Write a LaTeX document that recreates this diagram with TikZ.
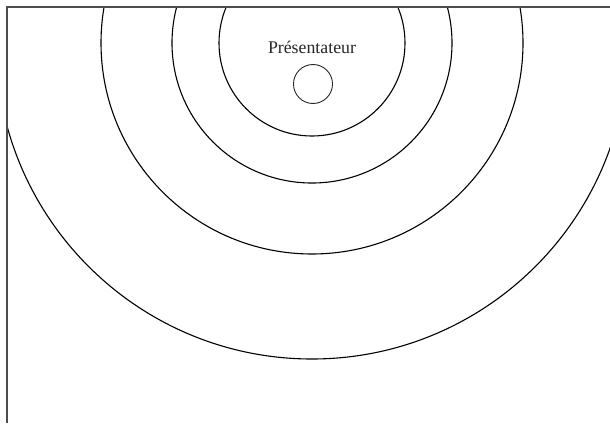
\documentclass[tikz,border=0pt]{standalone}
\usepackage{fontspec}
\setmainfont{Liberation Serif}
\begin{document}
\begin{tikzpicture}[x=1pt,y=-1pt,
  frame/.style={draw=black!70, line width=1.2pt},
  ring/.style={draw=black, line width=1.1pt},
  presenterbox/.style={circle, draw=black!85, line width=0.9pt, minimum size=39pt, inner sep=0pt},
  labeltext/.style={font=\fontsize{17.8}{20}\selectfont, text=black!85, inner sep=0pt}]
\useasboundingbox (0,0) rectangle (610,423);
\coordinate (c) at (312,43);
\coordinate (tr) at (610,7);
\coordinate (tl) at (7,7);
\coordinate (bl) at (7,423);
\begin{scope}
  \clip (7,7) rectangle (612,425);
  \foreach \r in {93,140,211,316} \draw[ring] (c) circle[radius=\r];
\end{scope}
\draw[frame] (tr) -- (tl) -- (bl);
\node[presenterbox] (presenter) at (313,84) {};
\node[labeltext] (label) at (312,47) {Présentateur};
\end{tikzpicture}
\end{document}
